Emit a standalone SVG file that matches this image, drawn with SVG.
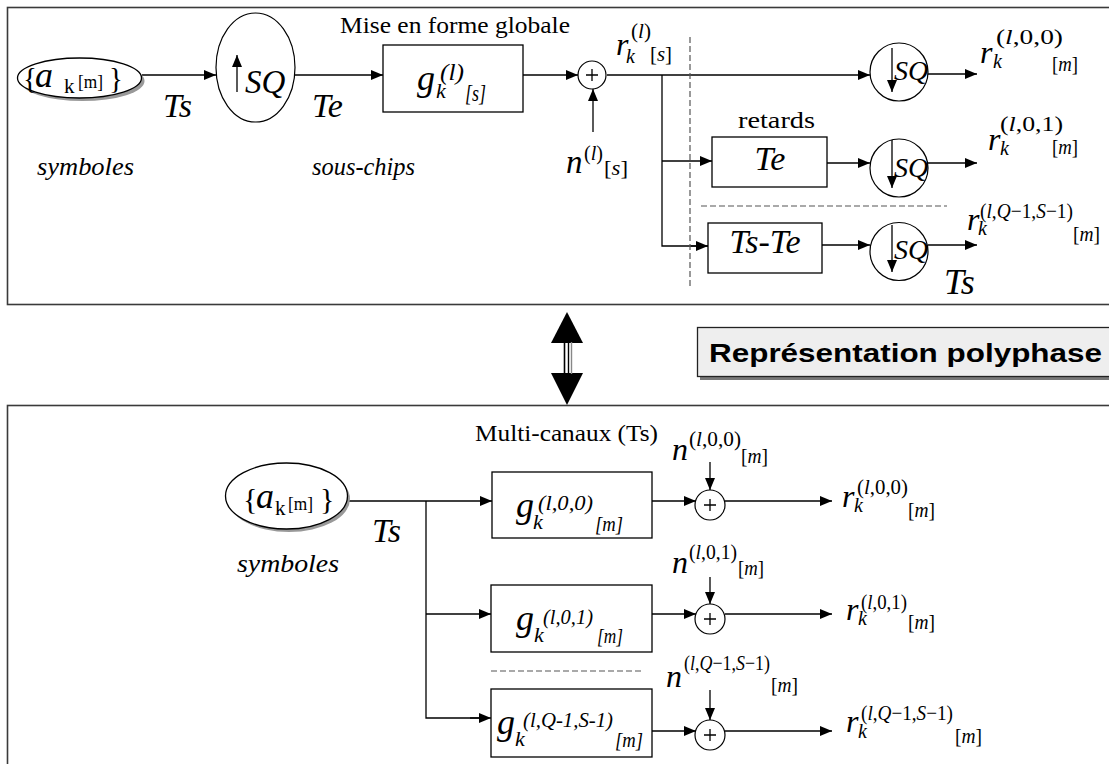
<svg xmlns="http://www.w3.org/2000/svg" width="1109" height="764" viewBox="0 0 1109 764">
<defs>
<style>
text{font-family:"Liberation Serif","Times New Roman",serif;fill:#000}
.i{font-style:italic}
.ln{stroke:#000;stroke-width:1.3;fill:none}
.a{marker-end:url(#ah)}
.box{fill:#fff;stroke:#000;stroke-width:1.3}
.frame{fill:none;stroke:#3a3a3a;stroke-width:1.6}
.dash{stroke:#555;stroke-width:1.2;stroke-dasharray:6,3;fill:none}
.big{font-size:34px;font-style:italic}
.lab{font-size:23px}
.sup{font-size:21px}
.circ{fill:#fff;stroke:#000;stroke-width:1.2}
</style>
<marker id="ah" viewBox="0 0 12 10" refX="12" refY="5" markerWidth="12" markerHeight="10" orient="auto" markerUnits="userSpaceOnUse"><path d="M0,0L12,5L0,10z" fill="#000"/></marker>
</defs>
<rect width="1109" height="764" fill="#fff"/>

<!-- frames -->
<rect class="frame" x="7.5" y="7.5" width="1120" height="297"/>
<rect class="frame" x="7.5" y="405.5" width="1120" height="380"/>

<!-- connectors -->
<g id="connectors">
  <line class="ln a" x1="142" y1="75" x2="216" y2="75"/>
  <line class="ln a" x1="295" y1="75" x2="383" y2="75"/>
  <line class="ln a" x1="523" y1="75" x2="578" y2="75"/>
  <line class="ln a" x1="593" y1="132" x2="593" y2="89"/>
  <line class="ln a" x1="607" y1="75" x2="870" y2="75"/>
  <polyline class="ln" points="662,75 662,246 708,246"/>
  <line class="ln a" x1="662" y1="161" x2="712" y2="161"/>
  <line class="ln a" x1="690" y1="246" x2="708" y2="246"/>
  <line class="ln a" x1="827" y1="163" x2="870" y2="163"/>
  <line class="ln a" x1="822" y1="245" x2="870" y2="245"/>
  <line class="ln a" x1="928" y1="74" x2="977" y2="74"/>
  <line class="ln a" x1="928" y1="163" x2="977" y2="163"/>
  <line class="ln a" x1="928" y1="245" x2="977" y2="245"/>
  <line class="dash" x1="690" y1="37" x2="690" y2="287"/>
  <line class="dash" x1="701" y1="206" x2="947" y2="206"/>
  <line class="ln a" x1="348" y1="501" x2="492" y2="501"/>
  <polyline class="ln" points="426,501 426,718 480,718"/>
  <line class="ln a" x1="426" y1="614" x2="491" y2="614"/>
  <line class="ln a" x1="470" y1="718" x2="491" y2="718"/>
  <line class="ln a" x1="652" y1="501" x2="696" y2="501"/>
  <line class="ln a" x1="652" y1="614" x2="696" y2="614"/>
  <line class="ln a" x1="652" y1="731" x2="696" y2="731"/>
  <line class="ln a" x1="710" y1="462" x2="710" y2="490"/>
  <line class="ln a" x1="710" y1="577" x2="710" y2="604"/>
  <line class="ln a" x1="710" y1="690" x2="710" y2="720"/>
  <line class="ln a" x1="725" y1="501" x2="832" y2="501"/>
  <line class="ln a" x1="725" y1="614" x2="832" y2="614"/>
  <line class="ln a" x1="725" y1="731" x2="832" y2="731"/>
  <line class="dash" x1="491" y1="671" x2="642" y2="671"/>
</g>

<!-- TOP SECTION -->
<g id="src-top">
  <ellipse cx="82.5" cy="81" rx="62" ry="20" fill="#999"/>
  <ellipse cx="79.5" cy="78" rx="62" ry="20" fill="#fff" stroke="#000" stroke-width="1.3"/>
  <text x="23" y="88" font-size="29">{</text>
  <text x="35" y="87" font-size="36" class="i">a</text>
  <text x="64" y="93" font-size="21">k</text>
  <text x="78" y="88" font-size="19" textLength="25" lengthAdjust="spacingAndGlyphs">[m]</text>
  <text x="109" y="88" font-size="29">}</text>
</g>
<text x="163" y="117" class="big">Ts</text>
<text x="37" y="175" class="i" font-size="25" textLength="97" lengthAdjust="spacingAndGlyphs">symboles</text>

<g id="upsampler">
  <ellipse class="circ" cx="255.5" cy="67.5" rx="39.5" ry="54.5"/>
  <line class="ln a" x1="237" y1="92" x2="237" y2="55"/>
  <text x="245" y="93" class="i" font-size="33">SQ</text>
</g>
<text x="312" y="117" class="big">Te</text>
<text x="312" y="175" class="i" font-size="25" textLength="103" lengthAdjust="spacingAndGlyphs">sous-chips</text>

<g id="shaping">
  <text x="340" y="33" class="lab" textLength="230" lengthAdjust="spacingAndGlyphs">Mise en forme globale</text>
  <rect class="box" x="383" y="45" width="140" height="67"/>
  <text x="417" y="90" class="i" font-size="36">g</text>
  <text x="436" y="98" class="i" font-size="22">k</text>
  <text x="440" y="80" class="i" font-size="23" textLength="24" lengthAdjust="spacingAndGlyphs">(l)</text>
  <text x="465" y="101" class="i" font-size="23" textLength="21" lengthAdjust="spacingAndGlyphs">[s]</text>
</g>

<g id="adder-top">
  <circle class="circ" cx="592" cy="75" r="14"/>
  <path class="ln" d="M586,75H598M592,69V81" stroke-width="1"/>
  <text x="566" y="173" class="i" font-size="33">n</text>
  <text x="584" y="160" class="sup" textLength="19" lengthAdjust="spacingAndGlyphs">(<tspan class="i">l</tspan>)</text>
  <text x="604" y="175" class="sup" textLength="24" lengthAdjust="spacingAndGlyphs">[<tspan class="i">s</tspan>]</text>
</g>

<g id="r-top">
  <text x="616" y="55" class="i" font-size="32">r</text>
  <text x="626" y="63" class="i" font-size="20">k</text>
  <text x="631" y="38" class="sup" textLength="20" lengthAdjust="spacingAndGlyphs">(<tspan class="i">l</tspan>)</text>
  <text x="650" y="61" class="sup" textLength="22" lengthAdjust="spacingAndGlyphs">[<tspan class="i">s</tspan>]</text>
</g>

<g id="delay-te">
  <text x="738" y="128" class="lab" textLength="77" lengthAdjust="spacingAndGlyphs">retards</text>
  <rect class="box" x="712" y="137" width="115" height="50"/>
  <text x="770" y="170" class="big" text-anchor="middle">Te</text>
</g>
<g id="delay-tste">
  <rect class="box" x="708" y="223" width="114" height="50"/>
  <text x="765" y="253" class="big" text-anchor="middle">Ts-Te</text>
</g>

<g id="down-1">
  <circle class="circ" cx="899" cy="72" r="29"/>
  <line class="ln a" x1="892" y1="48" x2="892" y2="92"/>
  <text x="894" y="80" class="i" font-size="28">SQ</text>
</g>
<g id="down-2">
  <circle class="circ" cx="899" cy="168" r="29"/>
  <line class="ln a" x1="892" y1="140" x2="892" y2="188"/>
  <text x="894" y="177" class="i" font-size="28">SQ</text>
</g>
<g id="down-3">
  <circle class="circ" cx="899" cy="251.5" r="29"/>
  <line class="ln a" x1="892" y1="225" x2="892" y2="272"/>
  <text x="894" y="259" class="i" font-size="28">SQ</text>
</g>
<text x="944" y="294" class="i" font-size="36">Ts</text>

<g id="out-top-1">
  <text x="980" y="63" class="i" font-size="32">r</text>
  <text x="993" y="68" class="i" font-size="20">k</text>
  <text x="996" y="44" class="sup" textLength="67" lengthAdjust="spacingAndGlyphs">(<tspan class="i">l</tspan>,0,0)</text>
  <text x="1052" y="71" class="sup" textLength="26" lengthAdjust="spacingAndGlyphs">[<tspan class="i">m</tspan>]</text>
</g>
<g id="out-top-2">
  <text x="988" y="150" class="i" font-size="32">r</text>
  <text x="1000" y="155" class="i" font-size="20">k</text>
  <text x="1000" y="131" class="sup" textLength="63" lengthAdjust="spacingAndGlyphs">(<tspan class="i">l</tspan>,0,1)</text>
  <text x="1052" y="154" class="sup" textLength="26" lengthAdjust="spacingAndGlyphs">[<tspan class="i">m</tspan>]</text>
</g>
<g id="out-top-3">
  <text x="967" y="230" class="i" font-size="32">r</text>
  <text x="978" y="235" class="i" font-size="20">k</text>
  <text x="980" y="218" class="sup" textLength="93" lengthAdjust="spacingAndGlyphs">(<tspan class="i">l</tspan>,<tspan class="i">Q</tspan>−1,<tspan class="i">S</tspan>−1)</text>
  <text x="1073" y="241" class="sup" textLength="27" lengthAdjust="spacingAndGlyphs">[<tspan class="i">m</tspan>]</text>
</g>

<!-- MIDDLE -->
<g id="equivalence">
  <polygon points="567,312 583,343 551,343" fill="#000"/>
  <polygon points="551,373 583,373 567,405" fill="#000"/>
  <line x1="564.5" y1="342" x2="564.5" y2="374" stroke="#000" stroke-width="1.6"/>
  <line x1="568.5" y1="342" x2="568.5" y2="374" stroke="#000" stroke-width="1.4"/>
  <line x1="571.5" y1="342" x2="571.5" y2="374" stroke="#888" stroke-width="1.4"/>
</g>
<g id="banner">
  <rect x="700" y="330" width="420" height="50" fill="#777"/>
  <rect x="697.5" y="327.5" width="420" height="49" fill="#eeeeee" stroke="#222" stroke-width="1.3"/>
  <text x="709" y="362" font-weight="bold" font-size="26" textLength="393" lengthAdjust="spacingAndGlyphs" style="font-family:'Liberation Sans',Arial,sans-serif">Représentation polyphase</text>
</g>

<!-- BOTTOM SECTION -->
<text x="475" y="441" class="lab" textLength="183" lengthAdjust="spacingAndGlyphs">Multi-canaux (Ts)</text>
<g id="src-bottom">
  <ellipse cx="289" cy="499" rx="61" ry="33" fill="#999"/>
  <ellipse cx="286.5" cy="496" rx="61" ry="33" fill="#fff" stroke="#000" stroke-width="1.3"/>
  <text x="243" y="509" font-size="30">{</text>
  <text x="256" y="508" font-size="36" class="i">a</text>
  <text x="275" y="515" font-size="21">k</text>
  <text x="288" y="510" font-size="19" textLength="25" lengthAdjust="spacingAndGlyphs">[m]</text>
  <text x="320" y="509" font-size="30">}</text>
</g>
<text x="372" y="542" class="big">Ts</text>
<text x="237" y="572" class="i" font-size="25" textLength="102" lengthAdjust="spacingAndGlyphs">symboles</text>

<g id="g000">
  <rect class="box" x="492" y="472" width="160" height="66"/>
  <text x="516" y="517" class="i" font-size="36">g</text>
  <text x="533" y="529" class="i" font-size="22">k</text>
  <text x="538" y="510" class="i" font-size="22" textLength="55" lengthAdjust="spacingAndGlyphs">(l,0,0)</text>
  <text x="595" y="531" class="i" font-size="22" textLength="28" lengthAdjust="spacingAndGlyphs">[m]</text>
</g>
<g id="g001">
  <rect class="box" x="491" y="585" width="161" height="67"/>
  <text x="516" y="630" class="i" font-size="36">g</text>
  <text x="534" y="642" class="i" font-size="22">k</text>
  <text x="543" y="624" class="i" font-size="22" textLength="50" lengthAdjust="spacingAndGlyphs">(l,0,1)</text>
  <text x="597" y="643" class="i" font-size="22" textLength="26" lengthAdjust="spacingAndGlyphs">[m]</text>
</g>
<g id="gQS">
  <rect class="box" x="491" y="689" width="161" height="68"/>
  <text x="497" y="734" class="i" font-size="36">g</text>
  <text x="515" y="746" class="i" font-size="22">k</text>
  <text x="523" y="727" class="i" font-size="22" textLength="90" lengthAdjust="spacingAndGlyphs">(l,Q-1,S-1)</text>
  <text x="615" y="747" class="i" font-size="22" textLength="28" lengthAdjust="spacingAndGlyphs">[m]</text>
</g>

<g id="add-1">
  <circle class="circ" cx="710" cy="505" r="15"/>
  <path class="ln" d="M704,505H716M710,499V511" stroke-width="1"/>
  <text x="672" y="460" class="i" font-size="32">n</text>
  <text x="689" y="446" class="sup" textLength="52" lengthAdjust="spacingAndGlyphs">(<tspan class="i">l</tspan>,0,0)</text>
  <text x="741" y="463" class="sup" textLength="27" lengthAdjust="spacingAndGlyphs">[<tspan class="i">m</tspan>]</text>
</g>
<g id="add-2">
  <circle class="circ" cx="710" cy="619" r="15"/>
  <path class="ln" d="M704,619H716M710,613V625" stroke-width="1"/>
  <text x="672" y="573" class="i" font-size="32">n</text>
  <text x="689" y="559" class="sup" textLength="48" lengthAdjust="spacingAndGlyphs">(<tspan class="i">l</tspan>,0,1)</text>
  <text x="738" y="575" class="sup" textLength="26" lengthAdjust="spacingAndGlyphs">[<tspan class="i">m</tspan>]</text>
</g>
<g id="add-3">
  <circle class="circ" cx="710" cy="735" r="15"/>
  <path class="ln" d="M704,735H716M710,729V741" stroke-width="1"/>
  <text x="666" y="687" class="i" font-size="32">n</text>
  <text x="684" y="670" class="sup" textLength="86" lengthAdjust="spacingAndGlyphs">(<tspan class="i">l</tspan>,<tspan class="i">Q</tspan>−1,<tspan class="i">S</tspan>−1)</text>
  <text x="771" y="692" class="sup" textLength="27" lengthAdjust="spacingAndGlyphs">[<tspan class="i">m</tspan>]</text>
</g>

<g id="out-bot-1">
  <text x="842" y="507" class="i" font-size="32">r</text>
  <text x="854" y="512" class="i" font-size="20">k</text>
  <text x="857" y="494" class="sup" textLength="51" lengthAdjust="spacingAndGlyphs">(<tspan class="i">l</tspan>,0,0)</text>
  <text x="908" y="517" class="sup" textLength="27" lengthAdjust="spacingAndGlyphs">[<tspan class="i">m</tspan>]</text>
</g>
<g id="out-bot-2">
  <text x="846" y="620" class="i" font-size="32">r</text>
  <text x="858" y="625" class="i" font-size="20">k</text>
  <text x="861" y="609" class="sup" textLength="46" lengthAdjust="spacingAndGlyphs">(<tspan class="i">l</tspan>,0,1)</text>
  <text x="908" y="629" class="sup" textLength="27" lengthAdjust="spacingAndGlyphs">[<tspan class="i">m</tspan>]</text>
</g>
<g id="out-bot-3">
  <text x="846" y="732" class="i" font-size="32">r</text>
  <text x="858" y="738" class="i" font-size="20">k</text>
  <text x="861" y="720" class="sup" textLength="92" lengthAdjust="spacingAndGlyphs">(<tspan class="i">l</tspan>,<tspan class="i">Q</tspan>−1,<tspan class="i">S</tspan>−1)</text>
  <text x="955" y="743" class="sup" textLength="27" lengthAdjust="spacingAndGlyphs">[<tspan class="i">m</tspan>]</text>
</g>
</svg>
